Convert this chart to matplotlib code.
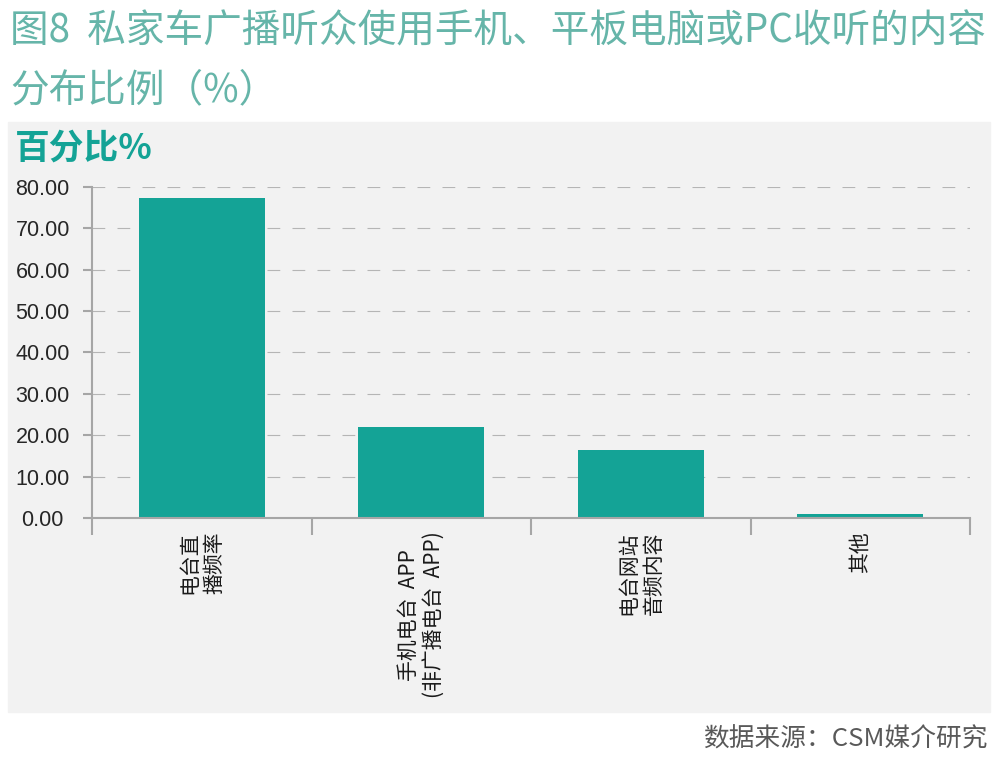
import matplotlib
matplotlib.use("Agg")
import matplotlib.pyplot as plt
from matplotlib.patches import Rectangle

# data
categories = ["电台直\n播频率", "手机电台  APP\n(非广播电台  APP)", "电台网站\n音频内容", "其他"]
values = [77.4, 21.9, 16.4, 1.0]
yticks = [0, 10, 20, 30, 40, 50, 60, 70, 80]

title_line1 = "图8  私家车广播听众使用手机、平板电脑或PC收听的内容"
title_line2 = "分布比例（%）"
unit_label = "百分比%"
source = "数据来源：CSM媒介研究"

teal = "#14a396"
title_teal = "#66b5a9"
axis_gray = "#a6a6a6"

plt.rcParams['font.family'] = ['Noto Sans CJK SC', 'DejaVu Sans']

W, H = 997, 777
fig = plt.figure(figsize=(W / 100, H / 100), dpi=100)

# grey panel behind the chart
fig.patches.append(Rectangle((8 / W, 1 - 712 / H), 982 / W, 590 / H,
                             transform=fig.transFigure, color="#f2f2f2", zorder=-5))

fig.text(10 / W, 1 - 31 / H, title_line1, fontsize=27.8, color=title_teal,
         ha="left", va="center", weight="light")
fig.text(10 / W, 1 - 90 / H, title_line2, fontsize=27.8, color=title_teal,
         ha="left", va="center", weight="light")
fig.text(15 / W, 1 - 148 / H, unit_label, fontsize=25, color=teal,
         ha="left", va="center", weight="bold")
fig.text(988 / W, 1 - 740 / H, source, fontsize=18.5, color="#595959",
         ha="right", va="center")

ax = fig.add_axes([92 / W, 1 - 518 / H, 878 / W, 331 / H])
ax.set_facecolor("none")

x = list(range(len(categories)))
ax.bar(x, values, width=0.575, color=teal, zorder=3)

ax.set_xlim(-0.5, len(categories) - 0.5)
ax.set_ylim(0, 80)

for s in ["top", "right"]:
    ax.spines[s].set_visible(False)
for s in ["left", "bottom"]:
    ax.spines[s].set_color(axis_gray)
    ax.spines[s].set_linewidth(1.5)
    ax.spines[s].set_zorder(4)

ax.set_yticks(yticks)
ax.set_yticklabels([f"{v:.2f}" for v in yticks], family="Liberation Sans")
ax.tick_params(axis="y", direction="out", length=6.5, width=1.5, color=axis_gray,
               labelsize=15.5, labelcolor="#262626", pad=29)
for lab in ax.get_yticklabels():
    lab.set_ha("center")

ax.yaxis.grid(True, color="#b5b5b5", linewidth=0.8, dashes=(11.5, 11), zorder=1)

# category boundary ticks, labels written separately
bounds = [i - 0.5 for i in range(len(categories) + 1)]
ax.set_xticks(bounds)
ax.set_xticklabels([])
ax.tick_params(axis="x", direction="out", length=12.5, width=1.5, color=axis_gray)

for xi, lab in zip(x, categories):
    ax.text(xi, -0.04, lab, transform=ax.get_xaxis_transform(), rotation=90,
            ha="center", va="top", multialignment="center", fontsize=15,
            color="#1a1a1a", linespacing=1.2)

fig.savefig("out.png", dpi=100)
